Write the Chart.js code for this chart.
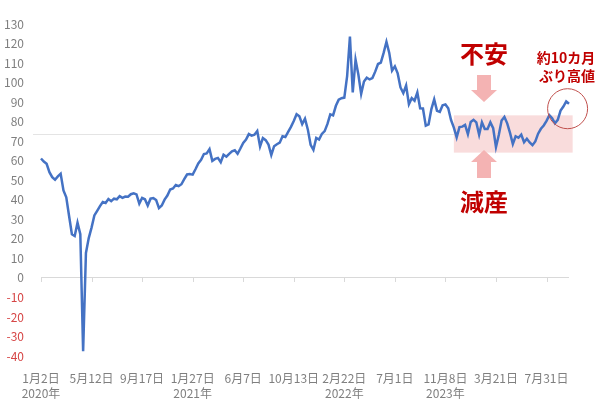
<!DOCTYPE html>
<html>
<head>
<meta charset="utf-8">
<script src="https://cdn.jsdelivr.net/npm/chart.js@4/dist/chart.umd.min.js"></script>
<style>
  body { margin: 0; background: #fff; }
  #wrap { width: 600px; height: 399px; }
</style>
</head>
<body>
<div id="wrap"><canvas id="oilChart"></canvas></div>
<script>
// WTI price, one point every 5 trading days from 2020-01-02
const prices = [
  61.2, 59.6, 58.5, 54.2, 51.6, 50.3, 52.0, 53.4, 44.8, 41.3,
  31.7, 22.4, 21.5, 28.3, 22.4, -37.6, 12.8, 20.4, 25.8, 32.0,
  34.4, 36.8, 38.9, 38.4, 40.4, 39.3, 40.6, 40.3, 41.9, 41.0,
  41.7, 41.6, 42.9, 43.4, 42.8, 38.1, 41.0, 40.3, 37.1, 40.6,
  40.9, 39.9, 35.8, 37.1, 40.1, 42.2, 45.3, 45.8, 47.6, 47.0,
  48.0, 50.6, 53.0, 53.2, 52.9, 55.7, 58.7, 60.5, 63.5, 63.8,
  66.0, 60.0, 61.0, 61.5, 59.3, 63.1, 62.1, 63.6, 64.9, 65.4,
  63.6, 66.3, 69.2, 70.9, 73.7, 72.9, 73.4, 75.3, 67.4, 71.7,
  70.6, 68.3, 63.0, 67.5, 68.5, 69.3, 72.6, 72.2, 74.8, 77.4,
  80.4, 83.9, 82.8, 78.8, 81.6, 76.1, 68.2, 65.6, 71.7, 70.9,
  73.8, 75.2, 78.9, 83.8, 83.3, 88.2, 91.3, 92.1, 92.4, 103.4,
  123.7, 95.0, 111.8, 104.2, 94.3, 100.6, 102.6, 101.7, 102.4, 105.7,
  109.6, 110.3, 115.3, 121.0, 115.3, 106.2, 108.4, 104.8, 97.6, 94.7,
  98.6, 89.0, 92.1, 90.8, 95.0, 86.9, 86.8, 78.0, 78.7, 86.5,
  91.5, 85.6, 85.1, 88.5, 88.9, 86.9, 80.9, 77.0, 72.0, 77.3,
  77.5, 78.4, 73.7, 79.9, 81.0, 79.7, 73.4, 79.7, 76.3, 76.3,
  79.7, 76.7, 67.0, 73.2, 80.7, 82.5, 79.2, 74.3, 68.6, 72.6,
  71.8, 73.4, 69.5, 71.3, 69.4, 68.0, 69.9, 73.9, 76.4, 78.1,
  80.5, 83.4, 81.8, 79.2, 81.0, 85.7, 87.8, 90.4, 89.2
];

// one tick label every 18 points (90 trading days)
const tickLabels = [
  ['1月2日', '2020年'], ['5月12日', ''], ['9月17日', ''], ['1月27日', '2021年'],
  ['6月7日', ''], ['10月13日', ''], ['2月22日', '2022年'], ['7月1日', ''],
  ['11月8日', '2023年'], ['3月21日', ''], ['7月31日', '']
];
const tickEvery = 18;

// 減産 / 不安 band and 10-month-high marker
const bandLow = 64.2, bandHigh = 83.3;
const bandFrom = 147, bandTo = 189.3;
const refLevel = 73.9;
const highIdx = 187.5, highVal = 86.7;

const labels = prices.map((_, i) => i);
const JP = '"Noto Sans CJK JP", "Noto Sans", sans-serif';

function blockArrow(ctx, cx, yBase, yTip, shaftW, headW, headLen) {
  const dir = yTip > yBase ? 1 : -1;
  const yHead = yTip - dir * headLen;
  ctx.beginPath();
  ctx.moveTo(cx - shaftW / 2, yBase);
  ctx.lineTo(cx + shaftW / 2, yBase);
  ctx.lineTo(cx + shaftW / 2, yHead);
  ctx.lineTo(cx + headW / 2, yHead);
  ctx.lineTo(cx, yTip);
  ctx.lineTo(cx - headW / 2, yHead);
  ctx.lineTo(cx - shaftW / 2, yHead);
  ctx.closePath();
  ctx.fill();
}

const notes = {
  id: 'notes',
  beforeDatasetsDraw(chart) {
    const { ctx, scales: { x, y }, chartArea } = chart;
    const bx0 = x.getPixelForValue(bandFrom);
    const bx1 = x.getPixelForValue(bandTo);
    ctx.save();
    // faint reference line
    ctx.strokeStyle = '#e4e4e4';
    ctx.lineWidth = 1;
    ctx.beginPath();
    ctx.moveTo(chartArea.left - 8, Math.round(y.getPixelForValue(refLevel)) + 0.5);
    ctx.lineTo(bx0, Math.round(y.getPixelForValue(refLevel)) + 0.5);
    ctx.stroke();
    // pink band
    ctx.fillStyle = '#f9dcdc';
    const top = y.getPixelForValue(bandHigh);
    ctx.fillRect(bx0, top, bx1 - bx0, y.getPixelForValue(bandLow) - top);
    // small ticks on the zero line
    const y0 = Math.round(y.getPixelForValue(0));
    ctx.strokeStyle = '#d9d9d9';
    ctx.beginPath();
    for (let i = 0; i < prices.length; i += tickEvery) {
      const px = Math.round(x.getPixelForValue(i)) + 0.5;
      ctx.moveTo(px, y0);
      ctx.lineTo(px, y0 + 4);
    }
    ctx.stroke();
    ctx.restore();
  },
  afterDatasetsDraw(chart) {
    const { ctx, scales: { x, y } } = chart;
    ctx.save();
    ctx.fillStyle = '#f4b3b3';
    blockArrow(ctx, 484, 75, 102, 14, 26, 12);
    blockArrow(ctx, 484, 178, 150, 14, 26, 12);

    ctx.fillStyle = '#c00000';
    ctx.textAlign = 'center';
    ctx.textBaseline = 'middle';
    ctx.font = 'bold 24px ' + JP;
    ctx.fillText('不安', 484, 54);
    ctx.fillText('減産', 484, 202);
    ctx.font = 'bold 14px ' + JP;
    ctx.fillText('約10カ月', 566, 58);
    ctx.fillText('ぶり高値', 567, 76);

    ctx.strokeStyle = '#c0504d';
    ctx.lineWidth = 1;
    ctx.beginPath();
    ctx.arc(x.getPixelForValue(highIdx), y.getPixelForValue(highVal), 20, 0, Math.PI * 2);
    ctx.stroke();
    ctx.restore();
  }
};

new Chart(document.getElementById('oilChart'), {
  type: 'line',
  data: {
    labels: labels,
    datasets: [{
      data: prices,
      borderColor: '#4472c4',
      borderWidth: 2.5,
      pointRadius: 0,
      tension: 0,
      fill: false
    }]
  },
  options: {
    responsive: true,
    maintainAspectRatio: false,
    animation: false,
    layout: { padding: { top: 13, right: 31, left: 0, bottom: 0 } },
    plugins: { legend: { display: false }, tooltip: { enabled: false } },
    scales: {
      x: {
        type: 'category',
        grid: { display: false },
        border: { display: false },
        afterFit(axis) { axis.height = 43; },
        ticks: {
          autoSkip: false,
          maxRotation: 0,
          padding: 7,
          color: '#7f7f7f',
          font: { family: JP, size: 12, lineHeight: 1.25 },
          callback: (v, i) => (i % tickEvery === 0 ? tickLabels[i / tickEvery] : null)
        }
      },
      y: {
        min: -40,
        max: 130,
        border: { display: false },
        afterFit(axis) { axis.width = 41; },
        grid: {
          drawTicks: false,
          color: ctx => (ctx.tick && ctx.tick.value === 0 ? '#d9d9d9' : 'rgba(0,0,0,0)')
        },
        ticks: {
          stepSize: 10,
          padding: 17,
          font: { family: JP, size: 12 },
          color: ctx => (ctx.tick.value < 0 ? '#d64545' : '#7f7f7f')
        }
      }
    }
  },
  plugins: [notes]
});
</script>
</body>
</html>
